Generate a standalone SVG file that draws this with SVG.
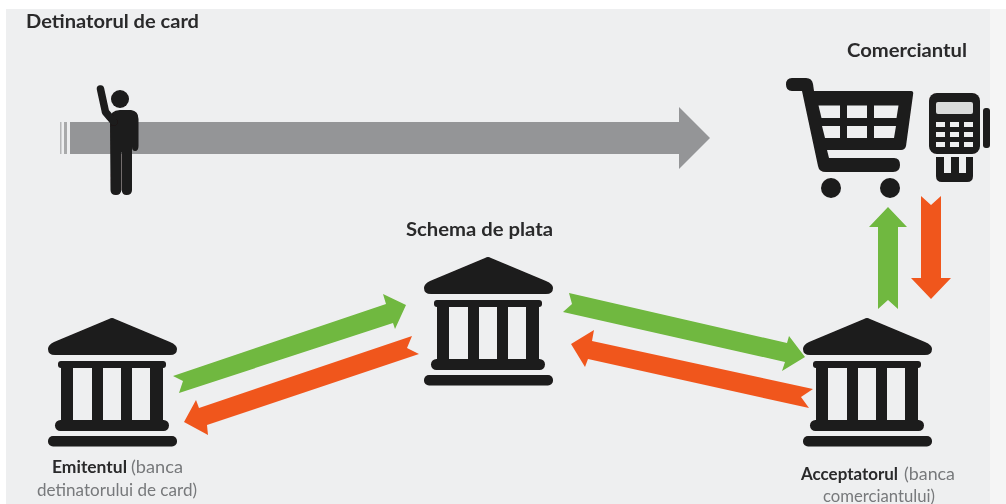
<svg xmlns="http://www.w3.org/2000/svg" width="1006" height="504" viewBox="0 0 1006 504">
<style>
text{font-family:"Lato","Liberation Sans",sans-serif}
.b{font-weight:700;fill:#2a2a2c}
.r{font-weight:400;fill:#77797b}
.h{font-size:19px}
.m{font-size:16.5px}
.k{fill:#1b1a1a}
.w{fill:#eeeff0}
.g{fill:#6fb83f}
.o{fill:#f0571f}
.s{filter:url(#soft)}
</style>
<defs>
<filter id="soft" x="-5%" y="-5%" width="110%" height="110%"><feGaussianBlur stdDeviation="0.45"/></filter>
<symbol id="bank" overflow="visible">
<path class="k" d="M-3 1 Q0 -1 3 1 L58 24 Q65 27 65 31 Q65 37 58 37 L-57 37 Q-64 37 -64 31 Q-64 27 -58 24 Z"/>
<rect class="k" x="-54" y="43" width="108" height="7" rx="3"/>
<rect class="k" x="-51" y="48" width="102" height="56"/>
<rect class="w" x="-39" y="50" width="19" height="52"/>
<rect class="w" x="-9" y="50" width="18" height="52"/>
<rect class="w" x="20" y="50" width="18" height="52"/>
<rect class="k" x="-57" y="102" width="114" height="11" rx="5.500"/>
<rect class="k" x="-64" y="118" width="129" height="10.500" rx="5"/>
</symbol>
</defs>
<rect width="1006" height="504" fill="#ffffff"/>
<rect x="6" y="9" width="984" height="495" fill="#eeeff0"/>
<rect x="990" y="9" width="16" height="495" fill="#f5f5f5"/>
<g class="s">
<g id="connectors">
<g id="flow-gray" fill="#949597">
<rect x="60" y="122" width="1.500" height="32" fill="#b5b6b7"/>
<rect x="64" y="122" width="3" height="32" fill="#a9aaab"/>
<path d="M70 122 H679 V107 L710 138 L679 169 V154 H70 Z"/>
</g>
<polygon class="g" points="173,376 386,304 383,294 406,305 395,329 393,323 179,393 183,381"/>
<polygon class="o" points="184,422 196,400 199,408 412,336 407,348 419,354 207,425 208,435"/>
<polygon class="g" points="569,293 787,343 789,336 805,357 782,371 785,362 563,312 572,304"/>
<polygon class="o" points="571,344 594,330 592,341 813,389 801,397 809,408 588,359 585,367"/>
<polygon class="g" points="888,207 907,227 898,227 898,309 888,300 878,309 878,227 869,227"/>
<polygon class="o" points="921,196 931,205 941,196 941,278 951,278 931,299 911,278 921,278"/>
</g>
<g id="cardholder">
<circle class="k" cx="120" cy="99" r="9"/>
<path class="k" d="M110 120 Q110 110 120 110 H131 Q138.500 111 138.500 119 V146 Q138.500 151 135 151 Q132 151 132 147 V190 Q132 195 126.500 195 Q122 195 121.700 190 V152 H121.300 V190 Q121 195 116 195 Q110.500 195 110.500 190 Z"/>
<path d="M100.500 89 L105.500 112 L114 122" fill="none" stroke="#1b1a1a" stroke-width="7.500" stroke-linecap="round" stroke-linejoin="round"/>
</g>
<g id="merchant">
<path class="k" d="M792 78 H806 Q812 78 813 84 L814 91 H911 Q914 91 913 95 L906 146 Q905 150 901 150 H827 L829 158 H894 Q900 158 900 165 Q900 172 893 172 H826 Q819 172 818 166 L802 91 H792 Q786 91 786 84.500 Q786 78 792 78 Z"/>
<g class="w">
<path d="M818.500 105.500 H840 V118 H821.500 Z"/>
<rect x="847" y="105.500" width="20" height="12.500"/>
<path d="M874 105.500 H898.500 L896.500 118 H874 Z"/>
<path d="M822 126 H840 V138 H825 Z"/>
<rect x="847" y="126" width="20" height="12"/>
<path d="M874 126 H896 L894 138 H874 Z"/>
</g>
<circle class="k" cx="831" cy="188" r="10"/>
<circle class="k" cx="890" cy="188" r="10"/>
<rect class="k" x="929" y="93" width="51" height="61" rx="8"/>
<rect x="936" y="102" width="37" height="12" rx="2" fill="#d9dada"/>
<g class="w">
<rect x="936" y="122" width="9" height="5"/><rect x="950" y="122" width="9" height="5"/><rect x="964" y="122" width="9" height="5"/>
<rect x="936" y="132" width="9" height="5"/><rect x="950" y="132" width="9" height="5"/><rect x="964" y="132" width="9" height="5"/>
<rect x="936" y="142" width="9" height="5"/><rect x="950" y="142" width="9" height="5"/><rect x="964" y="142" width="9" height="5"/>
</g>
<rect class="k" x="983" y="108" width="7" height="40" rx="3"/>
<path class="k" d="M936 157 H944 V173 H951 V157 H959 V173 H966 V157 H973 V176 Q973 182 967 182 H942 Q936 182 936 176 Z"/>
</g>
<use id="issuer" href="#bank" x="112" y="318"/>
<use id="scheme" href="#bank" x="488" y="257"/>
<use id="acquirer" href="#bank" x="867" y="318"/>
</g>
<text class="b s h" x="26" y="28" textLength="173" lengthAdjust="spacingAndGlyphs">Detinatorul de card</text>
<text class="b s h" x="847" y="57" textLength="120" lengthAdjust="spacingAndGlyphs">Comerciantul</text>
<text class="b s h" x="406" y="236" textLength="147" lengthAdjust="spacingAndGlyphs">Schema de plata</text>
<text class="b s m" x="52" y="473" textLength="75" lengthAdjust="spacingAndGlyphs">Emitentul</text>
<text class="r s m" x="131" y="473" textLength="52" lengthAdjust="spacingAndGlyphs">(banca</text>
<text class="r s m" x="37" y="496" textLength="160" lengthAdjust="spacingAndGlyphs">detinatorului de card)</text>
<text class="b s m" x="801" y="480" textLength="97" lengthAdjust="spacingAndGlyphs">Acceptatorul</text>
<text class="r s m" x="904" y="480" textLength="51" lengthAdjust="spacingAndGlyphs">(banca</text>
<text class="r s m" x="823" y="502" textLength="112" lengthAdjust="spacingAndGlyphs">comerciantului)</text>
</svg>
